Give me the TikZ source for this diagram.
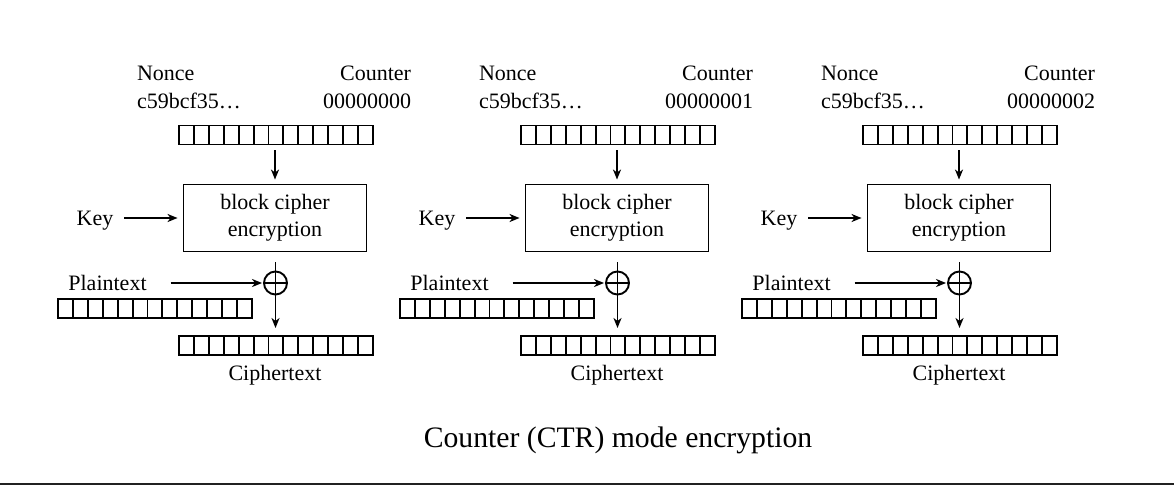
\documentclass[tikz,border=0pt]{standalone}
\usepackage{fontspec}
\setmainfont{Liberation Serif}
\usetikzlibrary{arrows.meta}
\begin{document}
\begin{tikzpicture}[x=1pt,y=-1pt,
  line width=1.9pt,
  txt/.style={inner sep=0pt, outer sep=0pt, font=\fontsize{22}{27}\selectfont},
  reg/.style={draw, minimum width=194pt, minimum height=19pt, inner sep=0pt,
    anchor=north west,
    path picture={
      \foreach \k in {1,...,12}{
        \draw ([xshift=\k*194pt/13]path picture bounding box.north west)
           -- ([xshift=\k*194pt/13]path picture bounding box.south west);}}},
  cipherbox/.style={draw, minimum width=183pt, minimum height=67pt, align=center,
    inner sep=0pt, font=\fontsize{22}{27}\selectfont},
  xorsym/.style={draw, circle, minimum size=23pt, inner sep=0pt,
    path picture={
      \draw (path picture bounding box.north) -- (path picture bounding box.south);
      \draw (path picture bounding box.west) -- (path picture bounding box.east);}},
  arr/.style={-{Stealth[length=10pt,width=8pt,inset=3pt]}},
]
\useasboundingbox (0,0) rectangle (1174,485);

\foreach \i/\cnt in {0/00000000,1/00000001,2/00000002}{
  \begin{scope}[xshift=342*\i]
    % labels above the counter block
    \node[txt, anchor=base west] (nonce\i) at (137,80) {Nonce};
    \node[txt, anchor=base east] (counter\i) at (411,80) {Counter};
    \node[txt, anchor=base west] (nval\i) at (137,108) {c59bcf35…};
    \node[txt, anchor=base east] (cval\i) at (411,108) {\cnt};

    % registers
    \node[reg] (ctr\i) at (178,124.5) {};
    \node[reg] (plain\i) at (57,298) {};
    \node[reg] (ct\i) at (178,335) {};

    % block cipher
    \node[cipherbox] (box\i) at (275,218) {block cipher\\encryption};
    \node[txt, anchor=base] (key\i) at (95,225) {Key};

    % xor
    \node[xorsym] (xor\i) at (275.5,283) {};
    \node[txt, anchor=base] (ptxt\i) at (107.5,290) {Plaintext};
    \node[txt, anchor=base] (ctxt\i) at (275,380) {Ciphertext};

    % connectors
    \draw[arr, shorten <=5pt, shorten >=4pt] (ctr\i.south -| box\i.north) -- (box\i.north);
    \draw[arr, shorten <=11pt, shorten >=5pt] (key\i.east |- box\i.west) -- (box\i.west);
    \draw[shorten <=10pt] (box\i.south -| xor\i.north) -- (xor\i.north);
    \draw[arr, shorten >=7pt] (xor\i.south) -- (xor\i.south |- ct\i.north);
    \draw[arr, shorten <=24pt, shorten >=1pt] (ptxt\i.east |- xor\i.west) -- (xor\i.west);
  \end{scope}
}

\node[inner sep=0pt, font=\fontsize{29.7}{34}\selectfont, anchor=base] (title) at (618,447)
  {Counter (CTR) mode encryption};

\draw[line width=2pt, black!87] (0,483.6) -- (1174,483.6);
\end{tikzpicture}
\end{document}
